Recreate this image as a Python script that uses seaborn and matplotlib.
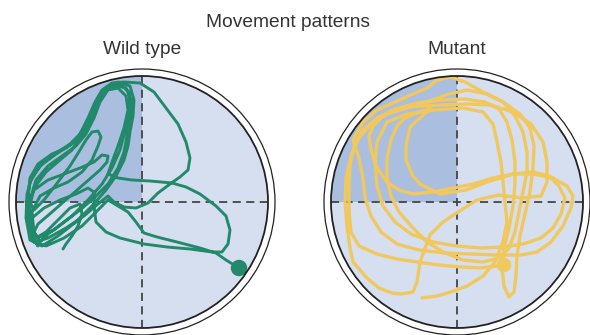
import matplotlib
matplotlib.use("Agg")
import matplotlib.pyplot as plt
import seaborn as sns
import pandas as pd
from matplotlib.patches import Circle, Wedge

sns.set_theme(style="white")
plt.rcParams['font.family'] = ['Liberation Sans', 'DejaVu Sans']

# ---- data (pool coordinates, pool radius = 126, centre = 0,0) ----
title = "Movement patterns"
panel_titles = ["Wild type", "Mutant"]
pool_radius = 126

wt_track = [
    (97, -66), (84, -58), (74, -51), (58, -46), (35, -40), (15, -35), (2, -31), (-6, -20), (-14, -10), (-24, -4), (-34, 2),
    (-46, -10), (-60, -24), (-78, -36), (-96, -44), (-108, -40), (-114, -22), (-115, 0), (-112, 20), (-102, 36), (-86, 48),
    (-70, 58), (-58, 70), (-50, 86), (-44, 102), (-34, 114), (-22, 118), (-13, 110), (-12, 94), (-16, 74), (-22, 52),
    (-30, 34), (-40, 18), (-54, 2), (-70, -14), (-88, -28), (-104, -36),
    (-112, -24), (-114, -4), (-108, 12), (-94, 22), (-78, 28), (-62, 34), (-48, 40), (-40, 47), (-34, 46), (-35, 40),
    (-42, 32), (-58, 18), (-74, 4), (-90, -10), (-104, -22), (-110, -34),
    (-104, -44), (-112, -30), (-113, -8), (-108, 14), (-96, 30), (-82, 42), (-70, 52), (-62, 64), (-54, 80), (-48, 96),
    (-40, 110), (-28, 117), (-16, 114), (-10, 100), (-12, 84), (-15, 66), (-18, 50), (-24, 34), (-34, 18), (-48, 4),
    (-62, -8), (-78, -20), (-94, -32), (-102, -40),
    (-108, -30), (-110, -10), (-102, 6), (-88, 14), (-74, 20), (-60, 30), (-50, 42), (-44, 56), (-41, 65), (-44, 71),
    (-50, 70), (-56, 62), (-62, 52), (-72, 36), (-84, 20), (-98, 2), (-108, -8), (-114, 4), (-112, 24), (-104, 38),
    (-90, 48), (-76, 54), (-66, 62),
    (-58, 74), (-50, 90), (-44, 104), (-36, 114), (-24, 120), (-12, 116), (-8, 102), (-9, 86), (-12, 70), (-14, 56),
    (-18, 42), (-26, 26), (-36, 12), (-50, -4), (-66, -20), (-84, -34), (-100, -44), (-112, -38), (-116, -16), (-115, 8),
    (-110, 26), (-98, 40), (-84, 50), (-72, 58), (-62, 68), (-54, 84), (-47, 100), (-40, 112), (-30, 119), (-18, 120),
    (-2, 119), (12, 110), (24, 94), (36, 78), (44, 60), (48, 44), (46, 32), (38, 25), (28, 18), (16, 9), (6, -1),
    (-6, -6), (-18, -5), (-28, 0), (-34, 6),
    (-44, -2), (-58, -14), (-76, -26), (-94, -36), (-106, -40), (-112, -30), (-110, -16), (-98, -6), (-82, 2), (-66, 8),
    (-54, 14), (-48, 10), (-48, -4),
    (-46, -20), (-36, -30), (-22, -36), (2, -42), (25, -45), (48, -47), (70, -50), (80, -50), (86, -42), (88, -28),
    (84, -14), (74, -4), (58, 8), (44, 15), (30, 19), (8, 21), (-10, 22), (-24, 24), (-34, 28),
    (-30, 40), (-24, 56), (-18, 74), (-14, 92), (-16, 106), (-24, 114), (-34, 112), (-42, 100), (-48, 84), (-56, 68),
    (-66, 56), (-80, 46), (-94, 36), (-106, 22), (-112, 2), (-112, -20), (-106, -36), (-96, -30), (-84, -18), (-72, -6),
    (-62, -2), (-60, -12), (-64, -24), (-70, -34), (-76, -42), (-79, -47),
]

mu_x = [47, 40, 24, 4, -18, -40, -60, -80, -98, -106, -108, -108, -107, -103, -94, -80, -62, -40, -16, 8, 28, 42, 50, 55, 58, 58, 56, 52, 47, 45, 47, 52, 57, 59, 60, 63, 68, 73, 76, 77, 73, 63, 46, 26, 8, -6, -20, -30, -44, -62, -80, -94, -104,
        -98, -94, -92, -86, -76, -60, -38, -12, 14, 40, 64, 80, 94, 106, 114, 116, 110, 96, 76, 56, 36, 16, -4, -24, -44, -58, -70, -80, -86, -88, -84, -74, -58, -38, -14, 10, 34, 56, 74, 86, 90, 90, 84, 66,
        41, 20, 1, -14, -27, -37, -40, -44, -56, -65, -78, -90, -104, -107, -110, -112, -111, -106, -98, -86, -70, -50, -30, -8, 10, 30, 46, 58, 66, 70, 70, 66, 62, 58, 52, 42, 26, 6, -14, -30, -44, -58, -66, -70, -70, -66, -60, -52, -38, -26,
        -47, -51, -51, -44, -37, -17, 9, 30, 56, 76, 92, 102, 108, 104, 96, 84, 66, 46, 24, 0, -24, -46, -62, -74, -80, -82, -80,
        -70, -50, -22, 6, 26, 36, 40, 44, 46, 48, 50, 46, 38, 26, 10, -6, -20, -35]
mu_y = [-63, -64, -66, -65, -63, -60, -57, -52, -44, -30, -8, 14, 36, 56, 72, 84, 93, 99, 102, 103, 100, 93, 80, 62, 40, 18, -4, -26, -46, -66, -84, -95, -90, -74, -54, -34, -12, 10, 34, 56, 74, 88, 100, 110, 120, 125, 122, 114, 108, 100, 92, 80, 62,
        44, 24, 4, -14, -30, -42, -48, -51, -52, -53, -53, -50, -40, -24, -6, 6, 16, 24, 28, 28, 24, 18, 14, 10, 8, 12, 20, 34, 52, 66, 76, 86, 94, 96, 97, 98, 97, 90, 78, 60, 40, 20, 6, 4,
        7, 2, -10, -20, -33, -60, -80, -90, -92, -91, -86, -76, -60, -46, -24, 0, 24, 46, 64, 78, 88, 94, 100, 108, 112, 108, 100, 86, 70, 50, 30, 10, -10, -30, -46, -56, -60, -58, -50, -40, -26, -10, 6, 24, 44, 62, 76, 84, 90, 94,
        75, 56, 42, 26, 18, 8, 12, 20, 28, 30, 26, 16, 4, -12, -26, -36, -42, -45, -46, -44, -40, -32, -20, -4, 16, 40, 60,
        80, 88, 92, 94, 90, 78, 60, 40, 20, 0, -20, -40, -60, -74, -84, -90, -94, -96]

wt_start = (97, -66)
mu_start = (47, -63)

# ---- style ----
light = "#d6dff0"
dark = "#aabee0"
green = "#22896b"
yellow = "#f0c85e"
ink = "#222222"

W, H = 590, 335
fig = plt.figure(figsize=(W / 100, H / 100), dpi=100)

half = 145
centres = [(142, 202), (457, 202)]
wt_x = [p[0] for p in wt_track]
wt_y = [p[1] for p in wt_track]
paths = [(wt_x, wt_y, green, wt_start, 2.1, 140), (mu_x, mu_y, yellow, mu_start, 2.4, 110)]

for (cx, cy), (px, py, col, st, lw, ms), name in zip(centres, paths, panel_titles):
    ax = fig.add_axes([(cx - half) / W, (H - cy - half) / H, 2 * half / W, 2 * half / H])
    ax.set_xlim(-half, half)
    ax.set_ylim(-half, half)
    ax.set_aspect("equal")
    ax.axis("off")
    R = pool_radius
    ax.add_patch(Circle((0, 0), R, facecolor=light, edgecolor="none", zorder=0))
    ax.add_patch(Wedge((0, 0), R, 90, 180, facecolor=dark, edgecolor="none", zorder=0.5))
    ax.plot([-R, R], [0, 0], color="#444444", lw=1.3, ls=(0, (4.5, 3)), zorder=1)
    ax.plot([0, 0], [-R, R], color="#444444", lw=1.3, ls=(0, (4.5, 3)), zorder=1)
    df = pd.DataFrame({"x": px, "y": py})
    sns.lineplot(data=df, x="x", y="y", sort=False, estimator=None, color=col, lw=lw,
                 ax=ax, legend=False, zorder=2, solid_joinstyle="round", solid_capstyle="round")
    sdf = pd.DataFrame({"x": [st[0]], "y": [st[1]]})
    sns.scatterplot(data=sdf, x="x", y="y", color=col, s=ms, ax=ax, legend=False,
                    edgecolor="none", zorder=3)
    ax.add_patch(Circle((0, 0), R, facecolor="none", edgecolor=ink, lw=1.3, zorder=4))
    ax.add_patch(Circle((0, 0), R + 7, facecolor="none", edgecolor=ink, lw=0.9, zorder=4))
    ax.set_xlabel("")
    ax.set_ylabel("")
    fig.text(cx / W, 1 - 53.5 / H, name, ha="center", va="baseline", fontsize=13.8, color="#333333")

fig.text(288 / W, 1 - 27 / H, title, ha="center", va="baseline", fontsize=13.8, color="#333333")

fig.savefig("out.png", dpi=100)
